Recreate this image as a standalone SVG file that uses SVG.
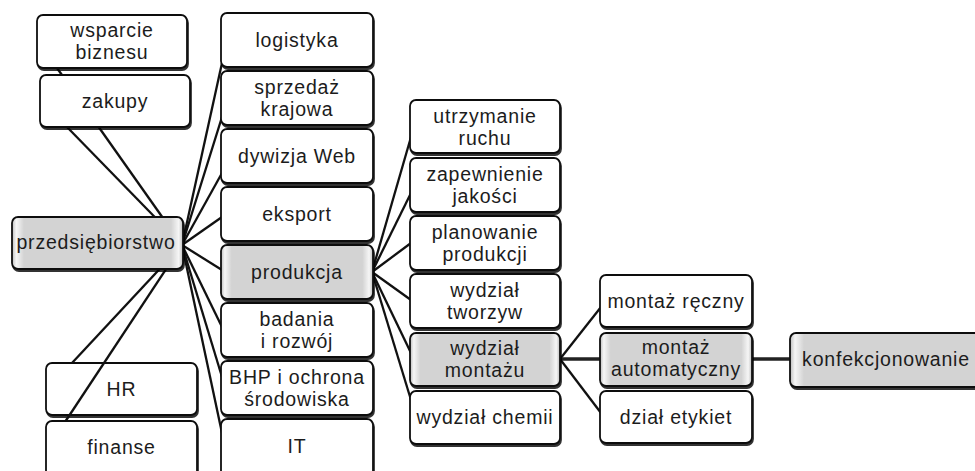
<svg xmlns="http://www.w3.org/2000/svg" width="975" height="471" viewBox="0 0 975 471">
<defs>
<linearGradient id="bevel" x1="0" y1="0" x2="1" y2="0">
<stop offset="0" stop-color="#bdbdbd"/>
<stop offset="0.025" stop-color="#f6f6f6"/>
<stop offset="0.07" stop-color="#d3d3d3"/>
<stop offset="0.93" stop-color="#d3d3d3"/>
<stop offset="0.975" stop-color="#f6f6f6"/>
<stop offset="1" stop-color="#bdbdbd"/>
</linearGradient>
<filter id="sh" x="-5%" y="-10%" width="115%" height="130%">
<feDropShadow dx="1" dy="2" stdDeviation="0.6" flood-color="#000" flood-opacity="0.8"/>
</filter>
</defs>
<style>
rect.b{fill:#fff;stroke:#111;stroke-width:1.8;filter:url(#sh)}
rect.g{fill:url(#bevel);stroke:#111;stroke-width:1.8;filter:url(#sh)}
text{font-family:"Liberation Sans",Arial,sans-serif;font-size:19.5px;letter-spacing:0.8px;fill:#1c1c1c;text-anchor:middle}
.c line{stroke:#111;stroke-width:2.3;fill:none}
.c line.t{stroke-width:3.5;stroke:#222}
</style>
<rect width="975" height="471" fill="#fff"/>

<g id="n-hr"><rect class="b" x="46" y="363" width="151" height="52" rx="6"/><text x="121.5" y="396">HR</text></g>

<g id="connectors" class="c">
<line x1="182" y1="245" x2="57" y2="68"/>
<line x1="182" y1="245" x2="67" y2="127"/>
<line x1="182" y1="245" x2="72" y2="363"/>
<line x1="182" y1="245" x2="65" y2="422"/>
<line x1="182" y1="245" x2="222" y2="63"/>
<line x1="182" y1="245" x2="222" y2="117"/>
<line x1="182" y1="245" x2="222" y2="173"/>
<line x1="182" y1="245" x2="222" y2="217"/>
<line x1="182" y1="245" x2="222" y2="270"/>
<line x1="182" y1="245" x2="222" y2="327"/>
<line x1="182" y1="245" x2="222" y2="377"/>
<line x1="182" y1="245" x2="222" y2="433"/>
<line x1="372" y1="272" x2="411" y2="137"/>
<line x1="372" y1="272" x2="411" y2="193"/>
<line x1="372" y1="272" x2="411" y2="243"/>
<line x1="372" y1="272" x2="411" y2="300"/>
<line x1="372" y1="272" x2="411" y2="353"/>
<line x1="372" y1="272" x2="411" y2="400"/>
<line x1="560" y1="359" x2="601" y2="307"/>
<line class="t" x1="560" y1="359" x2="601" y2="359"/>
<line x1="560" y1="359" x2="601" y2="413"/>
<line class="t" x1="751" y1="359" x2="791" y2="359"/>
</g>

<g id="n-wsparcie"><rect class="b" x="37" y="15" width="150" height="53" rx="6"/><text x="112" y="37">wsparcie</text><text x="112" y="59">biznesu</text></g>
<g id="n-zakupy"><rect class="b" x="40" y="75" width="150" height="52" rx="6"/><text x="115" y="108">zakupy</text></g>
<g id="n-przedsiebiorstwo"><rect class="g" x="12" y="217" width="171" height="52" rx="6"/><text x="96" y="249">przedsiębiorstwo</text></g>
<g id="n-finanse"><rect class="b" x="46" y="421" width="151" height="56" rx="6"/><text x="121.5" y="454">finanse</text></g>

<g id="n-logistyka"><rect class="b" x="221" y="13" width="152" height="54" rx="6"/><text x="297" y="47">logistyka</text></g>
<g id="n-sprzedaz"><rect class="b" x="221" y="71" width="152" height="54" rx="6"/><text x="297" y="94">sprzedaż</text><text x="297" y="116">krajowa</text></g>
<g id="n-dywizja"><rect class="b" x="221" y="129" width="152" height="54" rx="6"/><text x="297" y="163">dywizja Web</text></g>
<g id="n-eksport"><rect class="b" x="221" y="187" width="152" height="54" rx="6"/><text x="297" y="221">eksport</text></g>
<g id="n-produkcja"><rect class="g" x="221" y="245" width="152" height="54" rx="6"/><text x="297" y="279">produkcja</text></g>
<g id="n-badania"><rect class="b" x="221" y="303" width="152" height="54" rx="6"/><text x="297" y="326">badania</text><text x="297" y="348">i rozwój</text></g>
<g id="n-bhp"><rect class="b" x="221" y="361" width="152" height="54" rx="6"/><text x="297" y="384">BHP i ochrona</text><text x="297" y="406">środowiska</text></g>
<g id="n-it"><rect class="b" x="221" y="419" width="152" height="58" rx="6"/><text x="297" y="453">IT</text></g>

<g id="n-utrzymanie"><rect class="b" x="410" y="100" width="150" height="53" rx="6"/><text x="485" y="122.5">utrzymanie</text><text x="485" y="144.5">ruchu</text></g>
<g id="n-zapewnienie"><rect class="b" x="410" y="158" width="150" height="54" rx="6"/><text x="485" y="181">zapewnienie</text><text x="485" y="203">jakości</text></g>
<g id="n-planowanie"><rect class="b" x="410" y="216" width="150" height="54" rx="6"/><text x="485" y="239">planowanie</text><text x="485" y="261">produkcji</text></g>
<g id="n-tworzyw"><rect class="b" x="410" y="274" width="150" height="54" rx="6"/><text x="485" y="297">wydział</text><text x="485" y="319">tworzyw</text></g>
<g id="n-montazu"><rect class="g" x="410" y="333" width="150" height="53" rx="6"/><text x="485" y="355">wydział</text><text x="485" y="377">montażu</text></g>
<g id="n-chemii"><rect class="b" x="410" y="391" width="150" height="53" rx="6"/><text x="485" y="424">wydział chemii</text></g>

<g id="n-reczny"><rect class="b" x="600" y="275" width="152" height="52" rx="6"/><text x="676" y="307.5">montaż ręczny</text></g>
<g id="n-automatyczny"><rect class="g" x="600" y="333" width="152" height="53" rx="6"/><text x="676" y="354">montaż</text><text x="676" y="376">automatyczny</text></g>
<g id="n-etykiet"><rect class="b" x="600" y="391" width="152" height="52" rx="6"/><text x="676" y="423.5">dział etykiet</text></g>

<g id="n-konfekcjonowanie"><rect class="g" x="790" y="333" width="200" height="54" rx="6"/><text x="886" y="366">konfekcjonowanie</text></g>
</svg>
